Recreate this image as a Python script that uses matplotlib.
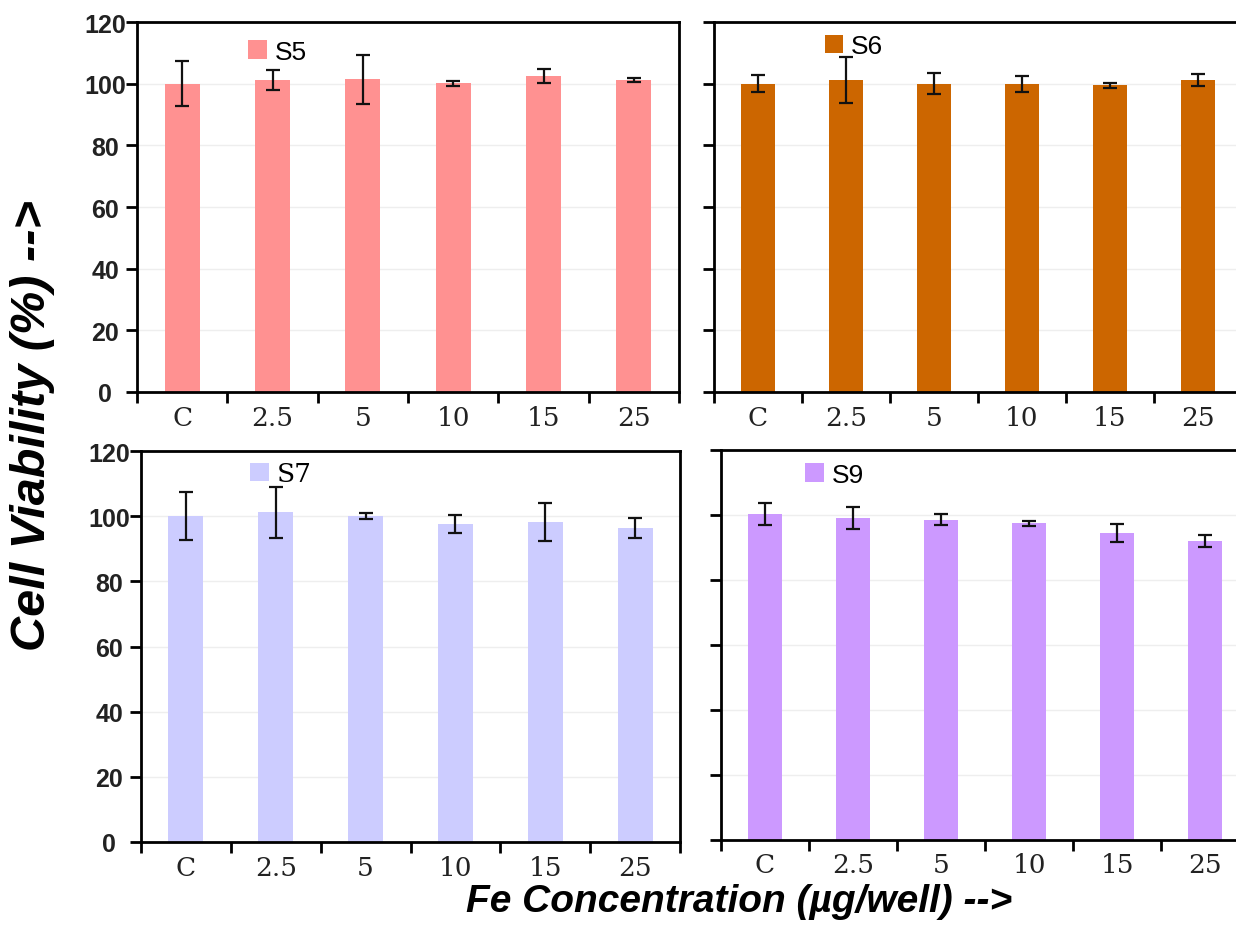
import matplotlib
matplotlib.use("Agg")
import matplotlib.pyplot as plt
import numpy as np

categories = ["C", "2.5", "5", "10", "15", "25"]

s5_vals = [100.0, 101.2, 101.4, 100.1, 102.5, 101.2]
s5_err = [7.3, 3.3, 8.0, 0.9, 2.2, 0.7]

s6_vals = [100.0, 101.2, 100.0, 100.0, 99.5, 101.2]
s6_err = [2.8, 7.5, 3.4, 2.6, 0.8, 2.0]

s7_vals = [100.0, 101.2, 100.0, 97.6, 98.2, 96.4]
s7_err = [7.4, 7.9, 0.9, 2.8, 5.8, 3.1]

s9_vals = [100.3, 99.2, 98.6, 97.4, 94.4, 92.0]
s9_err = [3.5, 3.4, 1.8, 0.7, 2.8, 1.8]

names = ["S5", "S6", "S7", "S9"]
colors = ["#FF9191", "#CC6600", "#CCCCFF", "#CC99FF"]

W, H = 1236, 945
fig = plt.figure(figsize=(W / 100, H / 100), dpi=100)

# axes boxes in pixels: left, top, right, bottom
boxes = [(137, 23, 679, 393), (714, 23, 1242, 393),
         (141, 452, 680, 843), (721, 451, 1249, 841)]
leg_pos = [(0.205, 0.92), (0.21, 0.935), (0.203, 0.942), (0.16, 0.937)]
leg_font = ["Liberation Sans", "Liberation Sans", "DejaVu Serif", "Liberation Sans"]
data = [(s5_vals, s5_err), (s6_vals, s6_err), (s7_vals, s7_err), (s9_vals, s9_err)]

x = np.arange(len(categories))
for i, (l, t, r, b) in enumerate(boxes):
    ax = fig.add_axes([l / W, 1 - b / H, (r - l) / W, (b - t) / H])
    vals, err = data[i]
    ax.bar(x, vals, width=0.39, color=colors[i], label=names[i], zorder=2)
    ax.errorbar(x, vals, yerr=err, fmt="none", ecolor="#111111",
                elinewidth=1.6, capsize=5, capthick=1.6, zorder=3)
    ax.set_xlim(-0.5, len(categories) - 0.5)
    ax.set_ylim(0, 120)
    ax.set_yticks(np.arange(0, 121, 20))
    ax.yaxis.grid(True, color="#eeeeee", linewidth=1.0, zorder=0)
    ax.set_axisbelow(True)
    ax.set_xticks(np.arange(-0.5, len(categories)), labels=[])
    ax.set_xticks(x, labels=categories, minor=True)
    ax.tick_params(axis="x", which="major", direction="out", length=8, width=2)
    ax.tick_params(axis="x", which="minor", length=0, pad=9, labelsize=19)
    for lab in ax.get_xticklabels(minor=True):
        lab.set_fontfamily("DejaVu Serif")
        lab.set_color("#222222")
    ax.tick_params(axis="y", direction="out", length=8, width=2, pad=2,
                   labelsize=18)
    if i % 2 == 0:
        for lab in ax.get_yticklabels():
            lab.set_fontfamily("Liberation Sans")
            lab.set_fontweight("bold")
            lab.set_color("#222222")
            lab.set_horizontalalignment("center")
            lab.set_x(-0.033)
    else:
        ax.set_yticklabels([])
        ax.spines["right"].set_visible(False)
    for s in ax.spines.values():
        s.set_linewidth(2)
        s.set_color("black")
    ax.legend(loc="center left", bbox_to_anchor=leg_pos[i], frameon=False,
              handlelength=0.7, handleheight=0.7, handletextpad=0.3,
              borderaxespad=0, borderpad=0,
              prop={"family": leg_font[i], "size": 19})

fig.text(0.026, 0.55, "Cell Viability (%) -->", rotation=90, ha="center",
         va="center", fontsize=35, fontweight="bold", fontstyle="italic",
         family="Liberation Sans")
fig.text(0.598, 0.046, "Fe Concentration (\u00b5g/well) -->", ha="center",
         va="center", fontsize=28, fontweight="bold", fontstyle="italic",
         family="Liberation Sans")

fig.savefig("out.png", dpi=100)
